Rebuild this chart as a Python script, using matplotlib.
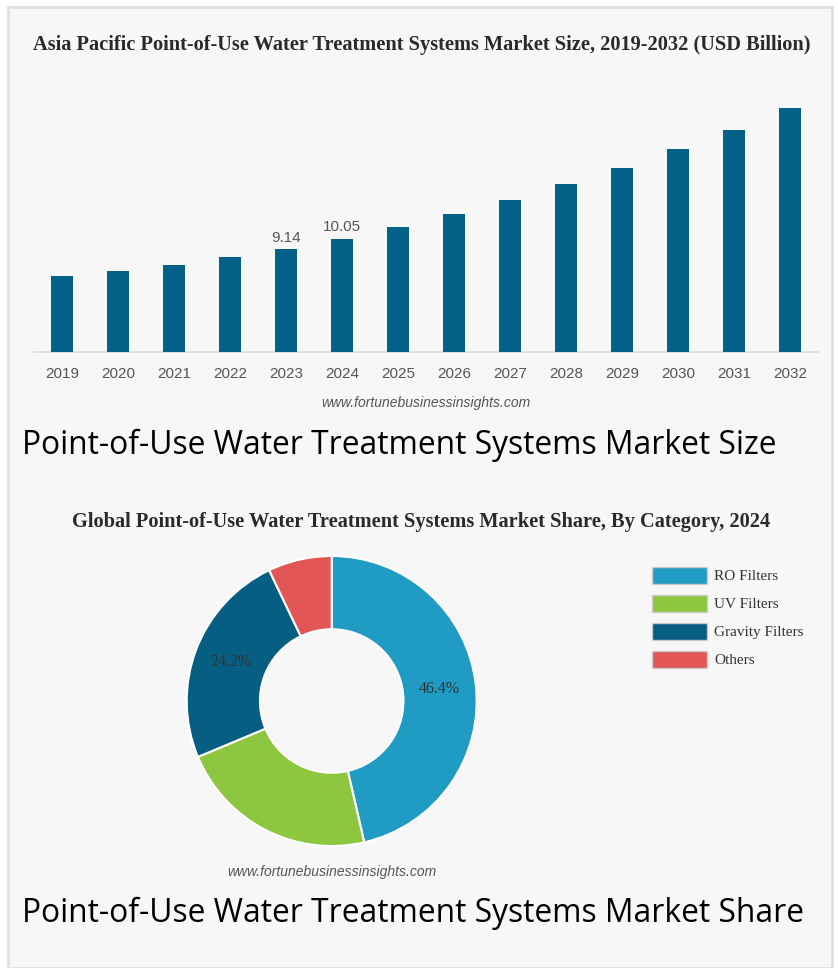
import matplotlib
matplotlib.use("Agg")
import numpy as np
import matplotlib.pyplot as plt
from matplotlib.patches import Rectangle, Patch

# bar chart data (USD Billion)
years = ['2019', '2020', '2021', '2022', '2023', '2024', '2025',
         '2026', '2027', '2028', '2029', '2030', '2031', '2032']
market_size = [6.75, 7.2, 7.7, 8.38, 9.14, 10.05, 11.1,
               12.24, 13.5, 14.87, 16.35, 18.0, 19.75, 21.7]
labelled_years = ['2023', '2024']

# donut data (% share 2024)
categories = ['RO Filters', 'UV Filters', 'Gravity Filters', 'Others']
shares = [46.4, 22.3, 24.2, 7.1]
labelled_categories = ['RO Filters', 'Gravity Filters']

bar_color = '#046187'
pie_colors = ['#1f9bc4', '#8dc63f', '#075e83', '#e35656']

W, H = 838, 968
fig = plt.figure(figsize=(W / 100, H / 100), dpi=100, facecolor='white')

def fx(px):
    return px / W

def fy(py):
    return (H - py) / H

# panel background with thin border
fig.patches.append(Rectangle((fx(8), 0), fx(832) - fx(8), fy(7), transform=fig.transFigure,
                             facecolor='#f7f7f7', edgecolor='#e0e0e0', linewidth=2, zorder=-10))

# ---- bar chart ----
ax = fig.add_axes([fx(34), fy(351.7), fx(818) - fx(34), fy(95) - fy(351.7)])
ax.set_facecolor('none')
x = range(len(years))
bars = ax.bar(x, market_size, width=0.41, color=bar_color, zorder=3)
ax.set_xlim(-0.5, len(years) - 0.5)
ax.set_ylim(0, (351.7 - 95) / 11.25)
ax.set_xticks(list(x))
ax.set_xticklabels(years, fontsize=11, color='#555555', family='Liberation Sans')
ax.tick_params(axis='x', length=0, pad=11)
ax.set_yticks([])
for side in ['top', 'left', 'right']:
    ax.spines[side].set_visible(False)
ax.spines['bottom'].set_color('#dddddd')
ax.spines['bottom'].set_linewidth(1.2)
for yr, val, b in zip(years, market_size, bars):
    if yr in labelled_years:
        ax.annotate(f'{val:.2f}', (b.get_x() + b.get_width() / 2, val),
                    xytext=(0, 3), textcoords='offset points', ha='center', va='bottom',
                    fontsize=11, color='#555555', family='Liberation Sans')

fig.text(fx(422), fy(45), 'Asia Pacific Point-of-Use Water Treatment Systems Market Size, 2019-2032 (USD Billion)',
         ha='center', va='center', fontsize=14.7, fontweight='bold', family='Liberation Serif', color='#2a2a2a')
fig.text(fx(426), fy(403), 'www.fortunebusinessinsights.com', ha='center', va='center',
         fontsize=10, style='italic', family='Liberation Sans', color='#555555')
fig.text(fx(22), fy(445), 'Point-of-Use Water Treatment Systems Market Size', ha='left', va='center',
         fontsize=22.9, family='Open Sans', color='black')

# ---- donut chart ----
fig.text(fx(421), fy(522), 'Global Point-of-Use Water Treatment Systems Market Share, By Category, 2024',
         ha='center', va='center', fontsize=14.7, fontweight='bold', family='Liberation Serif', color='#2a2a2a')

pax = fig.add_axes([fx(331.7 - 145), fy(701 + 145), fx(290), 290 / H])
pax.set_facecolor('none')

wedges, texts = pax.pie(shares, colors=pie_colors, startangle=90, counterclock=False,
                        wedgeprops=dict(width=0.505, edgecolor='white', linewidth=1.5))
for w, cat, val in zip(wedges, categories, shares):
    if cat in labelled_categories:
        ang = np.deg2rad((w.theta1 + w.theta2) / 2)
        pax.text(0.745 * np.cos(ang), 0.745 * np.sin(ang), f'{val}%', ha='center', va='center',
                 fontsize=11.5, family='Liberation Serif', color='#333333')
pax.set_xlim(-1, 1)
pax.set_ylim(-1, 1)
pax.set_aspect('equal')
pax.axis('off')

handles = [Patch(facecolor=c, edgecolor='#cccccc', linewidth=1) for c in pie_colors]
fig.legend(handles, categories, loc='upper left', bbox_to_anchor=(fx(652), fy(567)),
           frameon=False, handlelength=3.6, handleheight=1.3,
           handletextpad=0.45, labelspacing=0.74, borderpad=0, borderaxespad=0,
           prop={'family': 'Liberation Serif', 'size': 11}, labelcolor='#333333')

fig.text(fx(332), fy(872), 'www.fortunebusinessinsights.com', ha='center', va='center',
         fontsize=10, style='italic', family='Liberation Sans', color='#555555')
fig.text(fx(22), fy(913), 'Point-of-Use Water Treatment Systems Market Share', ha='left', va='center',
         fontsize=22.9, family='Open Sans', color='black')

fig.savefig('out.png', dpi=100, facecolor=fig.get_facecolor())
